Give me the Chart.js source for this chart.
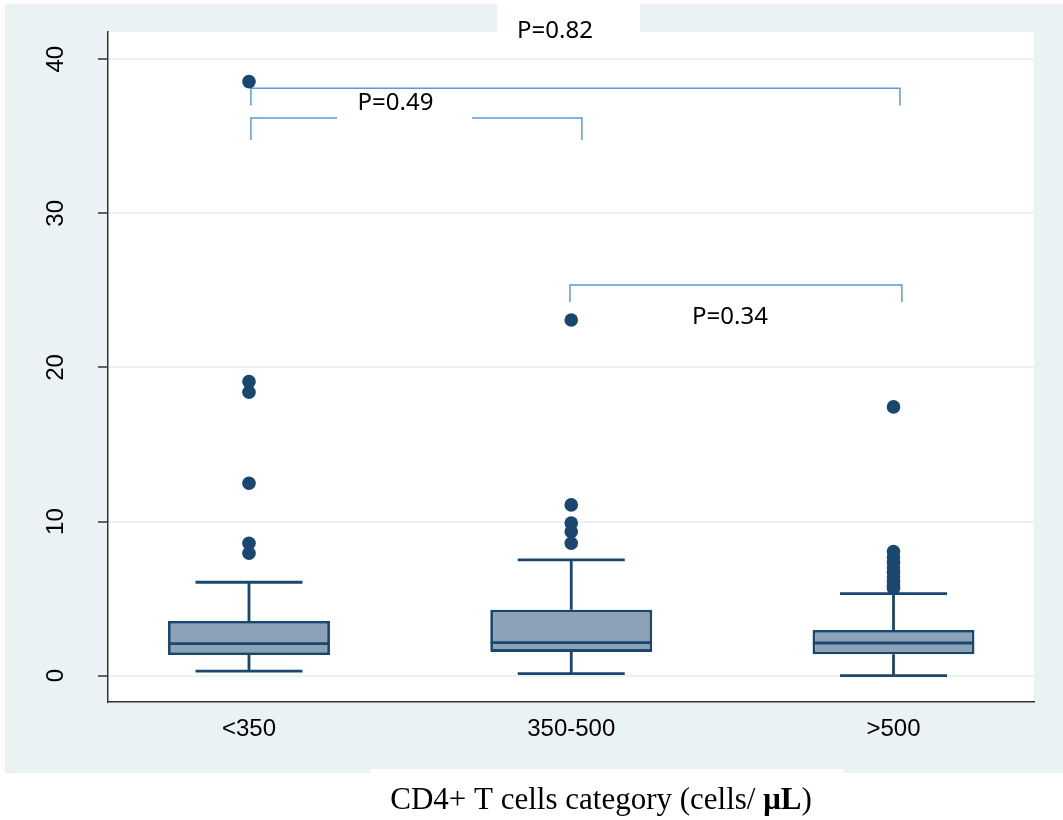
<!DOCTYPE html>
<html>
<head>
<meta charset="utf-8">
<script src="https://cdn.jsdelivr.net/npm/chart.js@4.4.1/dist/chart.umd.min.js"></script>
<style>
  html, body { margin: 0; padding: 0; background: #fff; }
  canvas { display: block; }
</style>
</head>
<body>
<canvas id="chart" width="1063" height="820"></canvas>
<script>
const categories = ['<350', '350-500', '>500']
const positions = [1, 2, 3]
const whiskerLow = [0.29, 0.13, 0.0]
const q1 = [1.34, 1.54, 1.39]
const median = [2.08, 2.14, 2.12]
const q3 = [3.55, 4.28, 2.97]
const whiskerHigh = [6.06, 7.51, 5.32]
const outliers = [
  [38.55, 19.08, 18.39, 12.49, 8.59, 7.94],
  [23.08, 11.08, 9.90, 9.34, 8.59],
  [17.44, 8.05, 7.7, 7.35, 7.0, 6.7, 6.4, 6.1, 5.85, 5.67]
]
const yTicks = [0, 10, 20, 30, 40]

// comparison brackets
const bracketFrom = [1.006, 1.006, 1.996]
const bracketTo = [3.02, 2.033, 3.026]
const bracketTop = [38.12, 36.19, 25.35]
const bracketLeg = [37.0, 34.76, 24.25]
const pLabels = ['P=0.82', 'P=0.49', 'P=0.34']
const pLabelX = [1.9496, 1.4546, 2.4926]
const pLabelY = [41.40, 36.71, 22.80]

const navy = '#1a476f'
const boxFill = 'rgb(140, 163, 183)'
const bracketColor = '#5b9bd5'
const frameColor = '#eaf2f3'
const boxHalf = 0.25
const capHalf = 0.166
// white backing behind the P labels (px around the text anchor)
const labelBacks = [
  { l: 58, r: 85, t: 38, b: -5 },
  { l: 58.5, r: 76.5, t: 19, b: 11 },
  null
]

function segments(list) {
  const data = []
  list.forEach(([x1, y1, x2, y2]) => {
    data.push({ x: x1, y: y1 }, { x: x2, y: y2 }, { x: x2, y: null })
  })
  return data
}

const whiskerSegs = []
const medianSegs = []
positions.forEach((p, i) => {
  whiskerSegs.push([p, q3[i], p, whiskerHigh[i]])
  whiskerSegs.push([p, q1[i], p, whiskerLow[i]])
  whiskerSegs.push([p - capHalf, whiskerHigh[i], p + capHalf, whiskerHigh[i]])
  whiskerSegs.push([p - capHalf, whiskerLow[i], p + capHalf, whiskerLow[i]])
  medianSegs.push([p - boxHalf, median[i], p + boxHalf, median[i]])
})

const bracketData = []
bracketFrom.forEach((f, i) => {
  bracketData.push(
    { x: f, y: bracketLeg[i] },
    { x: f, y: bracketTop[i] },
    { x: bracketTo[i], y: bracketTop[i] },
    { x: bracketTo[i], y: bracketLeg[i] },
    { x: bracketTo[i], y: null }
  )
})

const outlierData = outliers.flatMap((vals, i) => vals.map(v => ({ x: positions[i], y: v })))

const decor = {
  id: 'decor',
  beforeDraw(chart) {
    const { ctx, chartArea: a } = chart
    ctx.save()
    ctx.fillStyle = '#ffffff'
    ctx.fillRect(0, 0, chart.width, chart.height)
    ctx.fillStyle = frameColor
    ctx.fillRect(5, 4, chart.width - 5, 769)
    ctx.fillStyle = '#ffffff'
    ctx.fillRect(a.left, a.top, a.right - a.left, a.bottom - a.top)
    ctx.fillRect(370, 769, 474, chart.height - 769)
    ctx.restore()
  },
  afterDatasetsDraw(chart) {
    const { ctx, scales: { x, y } } = chart
    ctx.save()
    ctx.font = '24px "Noto Sans"'
    ctx.textAlign = 'center'
    ctx.textBaseline = 'alphabetic'
    pLabels.forEach((label, i) => {
      const px = x.getPixelForValue(pLabelX[i])
      const py = y.getPixelForValue(pLabelY[i])
      const back = labelBacks[i]
      if (back) {
        ctx.fillStyle = '#ffffff'
        ctx.fillRect(px - back.l, py - back.t, back.l + back.r, back.t + back.b)
      }
      ctx.fillStyle = '#000000'
      ctx.fillText(label, px, py)
    })
    ctx.restore()
  },
  afterDraw(chart) {
    const { ctx } = chart
    const parts = [
      ['CD4+ T cells category (cells/ ', 'normal'],
      ['\u03bcL', 'bold'],
      [')', 'normal']
    ]
    ctx.save()
    ctx.fillStyle = '#000000'
    ctx.textBaseline = 'alphabetic'
    ctx.textAlign = 'left'
    let total = 0
    parts.forEach(([t, w]) => {
      ctx.font = `${w} 31px "Liberation Serif"`
      total += ctx.measureText(t).width
    })
    let cx = 601 - total / 2
    parts.forEach(([t, w]) => {
      ctx.font = `${w} 31px "Liberation Serif"`
      ctx.fillText(t, cx, 809)
      cx += ctx.measureText(t).width
    })
    ctx.restore()
  }
}

new Chart(document.getElementById('chart'), {
  type: 'scatter',
  data: {
    datasets: [
      {
        type: 'scatter',
        data: outlierData,
        pointRadius: 6.8,
        pointBackgroundColor: navy,
        pointBorderWidth: 0,
        order: 0
      },
      {
        type: 'line',
        data: segments(medianSegs),
        borderColor: navy,
        borderWidth: 2.8,
        pointRadius: 0,
        spanGaps: false,
        order: 1
      },
      {
        type: 'bar',
        data: positions.map((p, i) => ({ x: p, y: [q1[i], q3[i]] })),
        backgroundColor: boxFill,
        borderColor: navy,
        borderWidth: 2.8,
        borderSkipped: false,
        barPercentage: 0.5025,
        categoryPercentage: 1,
        order: 2
      },
      {
        type: 'line',
        data: segments(whiskerSegs),
        borderColor: navy,
        borderWidth: 2.8,
        pointRadius: 0,
        spanGaps: false,
        order: 3
      },
      {
        type: 'line',
        data: bracketData,
        borderColor: bracketColor,
        borderWidth: 1.5,
        pointRadius: 0,
        spanGaps: false,
        order: 4
      }
    ]
  },
  options: {
    responsive: false,
    animation: false,
    events: [],
    layout: { padding: { top: 32, right: 29, left: 10, bottom: 0 } },
    plugins: {
      legend: { display: false },
      tooltip: { enabled: false },
      title: { display: false }
    },
    scales: {
      x: {
        type: 'linear',
        min: 0.5625,
        max: 3.436,
        offset: false,
        grid: { display: false, drawTicks: false },
        border: { display: true, color: '#333333', width: 1.5 },
        afterBuildTicks: s => { s.ticks = positions.map(v => ({ value: v })) },
        afterFit: s => { s.height = 118; s.paddingLeft = 0; s.paddingRight = 0 },
        ticks: {
          padding: 13,
          color: '#000000',
          font: { family: '"Liberation Sans", Arial', size: 24 },
          callback: v => categories[positions.indexOf(v)]
        }
      },
      y: {
        type: 'linear',
        min: -1.71,
        max: 41.77,
        afterBuildTicks: s => { s.ticks = yTicks.map(v => ({ value: v })) },
        afterFit: s => { s.width = 98; s.paddingTop = 0; s.paddingBottom = 0 },
        grid: {
          color: frameColor,
          lineWidth: 2,
          tickColor: '#333333',
          tickLength: 10,
          tickWidth: 1.5
        },
        border: { display: true, color: '#333333', width: 1.5 },
        ticks: {
          minRotation: 90,
          maxRotation: 90,
          crossAlign: 'center',
          padding: 28.5,
          color: '#000000',
          font: { family: '"Liberation Sans", Arial', size: 24 }
        }
      }
    }
  },
  plugins: [decor]
})
</script>
</body>
</html>
